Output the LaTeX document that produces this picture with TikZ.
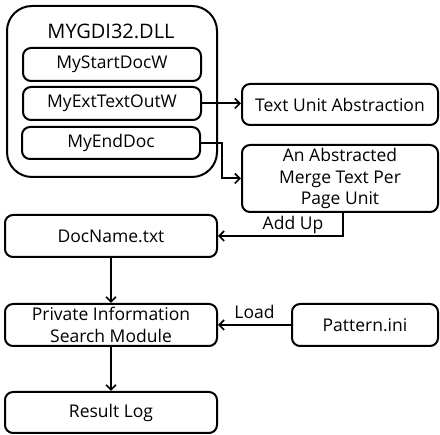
\documentclass[tikz,border=0pt]{standalone}
\usepackage{fontspec}
\setmainfont{Open Sans}
\usetikzlibrary{arrows.meta}

\begin{document}
\begin{tikzpicture}
  [x=1pt,y=-1pt,line width=2pt,font=\fontsize{17.5}{21.5}\selectfont,
   box/.style={draw,rounded corners=8pt,inner sep=0pt,align=center},
   flow/.style={-{Straight Barb[length=5pt,width=10pt,line width=1.6pt]}}]
  \useasboundingbox (0,0) rectangle (440,435);

  % dll with its three hooks
  \node[box,rounded corners=25pt,minimum width=210pt,minimum height=171pt] (dll) at (112,91.5) {};
  \node[font=\fontsize{20}{24}\selectfont] (dllname) at (111,31) {MYGDI32.DLL};
  \node[box,minimum width=178pt,minimum height=33pt] (start) at (112,64.5) {MyStartDocW};
  \node[box,minimum width=178pt,minimum height=33pt] (ext) at (112,103.5) {MyExtTextOutW};
  \node[box,minimum width=178pt,minimum height=32pt] (enddoc) at (111,143) {MyEndDoc};

  \node[box,minimum width=196pt,minimum height=41pt] (unit) at (340,104.5) {Text Unit Abstraction};
  \node[box,minimum width=196pt,minimum height=67pt] (merge) at (340,178.5)
    {An Abstracted\\Merge Text Per\\Page Unit};

  \node[box,minimum width=212pt,minimum height=42pt] (docname) at (111,236) {DocName.txt};
  \node[box,minimum width=212pt,minimum height=42pt] (search) at (111,325)
    {Private Information\\Search Module};
  \node[box,minimum width=146pt,minimum height=42pt] (pattern) at (365,325) {Pattern.ini};
  \node[box,minimum width=212pt,minimum height=41pt] (result) at (111,412.5) {Result Log};

  \draw[flow] (ext.east) -- (ext.east -| unit.west);
  \draw[flow] (enddoc.east) -- ++(21,0) |- (merge.west);
  \draw[flow] ([xshift=3pt]merge.south) |- node[pos=0.7,above=-2pt] {Add Up} (docname.east);
  \draw[flow] (docname) -- (search);
  \draw[flow] (pattern) -- node[above=2pt] {Load} (search);
  \draw[flow] (search) -- (result);

\end{tikzpicture}
\end{document}
